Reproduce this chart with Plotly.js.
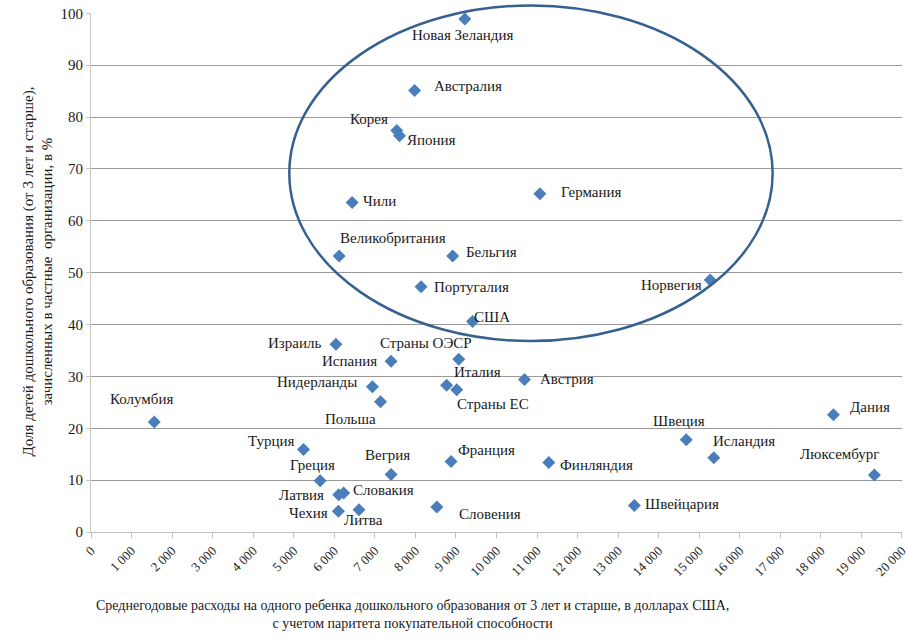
<!DOCTYPE html>
<html>
<head>
<meta charset="utf-8">
<script src="https://cdn.plot.ly/plotly-3.0.1.min.js"></script>
<style>html,body{margin:0;padding:0;background:#fff;}#chart{width:908px;height:639px;}</style>
</head>
<body>
<div id="chart"></div>
<script>
// ---- data ----
var countries = ["Новая Зеландия","Австралия","Корея","Япония","Чили","Германия","Великобритания","Бельгия","Португалия","США","Норвегия",
  "Израиль","Испания","Страны ОЭСР","Нидерланды","Польша","Италия","Страны ЕС","Колумбия","Турция","Греция","Вегрия","Франция",
  "Латвия","Словакия","Чехия","Литва","Словения","Австрия","Финляндия","Швейцария","Швеция","Исландия","Дания","Люксембург"];
var spending = [9220,7980,7540,7610,6440,11070,6120,8920,8140,9410,15270,
  6040,7400,9070,6940,7140,8770,9020,1560,5240,5650,7400,8880,
  6110,6230,6100,6610,8530,10690,11290,13400,14680,15360,18310,19320];
var privateShare = [98.9,85.1,77.4,76.4,63.5,65.2,53.2,53.2,47.3,40.6,48.6,
  36.2,32.9,33.3,28.0,25.1,28.3,27.4,21.2,15.9,9.9,11.1,13.6,
  7.2,7.5,4.0,4.3,4.8,29.4,13.4,5.1,17.8,14.3,22.6,11.0];
var xTickVals = [0,1000,2000,3000,4000,5000,6000,7000,8000,9000,10000,11000,12000,13000,14000,15000,16000,17000,18000,19000,20000];
var yTickVals = [0,10,20,30,40,50,60,70,80,90,100];
var xTitle = "Среднегодовые расходы на одного ребенка дошкольного образования от 3 лет и старше, в долларах США,<br>с учетом паритета покупательной способности";
var yTitle = "Доля детей дошкольного образования (от 3 лет и старше),<br>зачисленных в частные  организации, в %";

// ---- label offsets (style, px) ----
var labelDx = [-2,53,-28,32,27,52,54,39,50,19,-39,
  -41,-42,-33,-55,-30,31,36,-13,-32,-8,-4,35,
  -37,40,-30,4,53,43,48,48,-7,30,37,-34];
var labelDy = [16,-5,-11,4,-2,-2,-18,-4,0,-4,5,
  -1,0,-16,-5,17,-13,14,-23,-9,-16,-19,-11,
  0,-3,2,10,7,0,3,-2,-19,-17,-8,-21];

var FONT = "Liberation Serif, DejaVu Serif, serif";

var annotations = countries.map(function(c,i){
  return {x: spending[i], y: privateShare[i], xref:'x', yref:'y', text:c, showarrow:false,
    xanchor:'center', yanchor:'middle', xshift: labelDx[i], yshift: -labelDy[i],
    font:{family:FONT, size:15, color:'#1a1a1a'}};
});
annotations.push({xref:'paper', yref:'paper', x:0.397, y:-0.158, text:xTitle, showarrow:false,
  xanchor:'center', yanchor:'middle', font:{family:FONT, size:14, color:'#1a1a1a'}});
annotations.push({xref:'paper', yref:'paper', x:-0.066, y:0.503, text:yTitle, showarrow:false, textangle:-90,
  xanchor:'center', yanchor:'middle', font:{family:FONT, size:15, color:'#1a1a1a'}});

var trace = {
  x: spending, y: privateShare, type:'scatter', mode:'markers',
  marker:{symbol:'diamond', size:10, color:'#4a7ebb', line:{width:0}},
  hoverinfo:'skip', cliponaxis:false
};

var layout = {
  width:908, height:639,
  margin:{l:91, r:6, t:13, b:107},
  paper_bgcolor:'#fff', plot_bgcolor:'#fff',
  separators:', ',
  showlegend:false,
  font:{family:FONT, color:'#1a1a1a'},
  xaxis:{range:[0,20000.5], tickvals:xTickVals, tickformat:',d', tickangle:-45, ticklabeloverflow:'allow',
    showgrid:false, zeroline:false, showline:true, linecolor:'#bfbfbf', linewidth:1,
    ticks:'outside', ticklen:5, tickcolor:'#bfbfbf',
    tickfont:{family:FONT, size:13, color:'#1a1a1a'}},
  yaxis:{range:[0,100.05], tickvals:yTickVals, showgrid:true, gridcolor:'#9a9a9a', gridwidth:1,
    zeroline:false, showline:true, linecolor:'#c8c8c8', linewidth:1,
    ticks:'outside', ticklen:4, tickcolor:'#c8c8c8',
    tickfont:{family:FONT, size:15, color:'#1a1a1a'}},
  shapes:[{type:'circle', xref:'paper', yref:'paper', x0:0.2445, x1:0.8405, y0:0.368, y1:1.0145,
    line:{color:'#35608f', width:2.5}, fillcolor:'rgba(0,0,0,0)'}],
  annotations: annotations
};

Plotly.newPlot('chart', [trace], layout, {displayModeBar:false, staticPlot:true});
</script>
</body>
</html>
